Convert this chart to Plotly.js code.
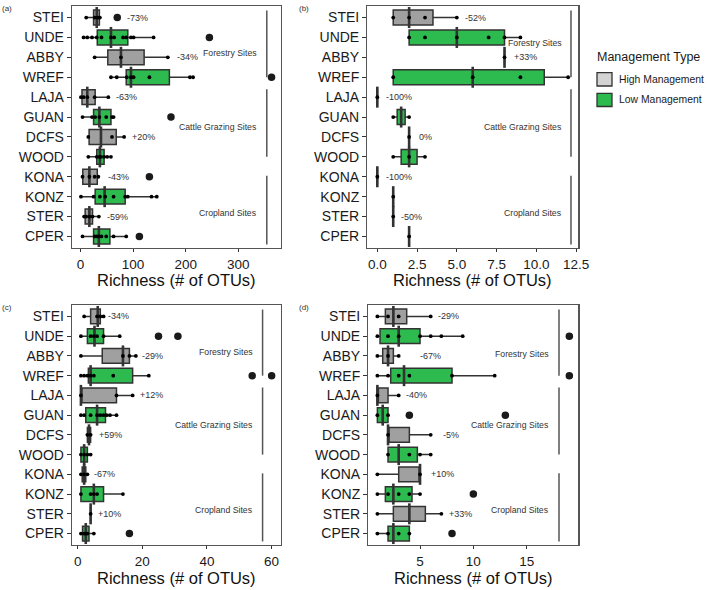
<!DOCTYPE html>
<html><head><meta charset="utf-8">
<script src="https://cdn.plot.ly/plotly-3.0.1.min.js"></script>
<style>html,body{margin:0;padding:0;background:#fff}#chart{width:709px;height:590px}</style>
</head><body><div id="chart"></div><script>
// ---------- DATA ----------
const sites = ['STEI','UNDE','ABBY','WREF','LAJA','GUAN','DCFS','WOOD','KONA','KONZ','STER','CPER'];
const highSites = ['STEI','ABBY','LAJA','DCFS','KONA','STER'];   // High Management
const groupNames = ['Forestry Sites','Cattle Grazing Sites','Cropland Sites'];
const xTitle = 'Richness (# of OTUs)';

// Panel (a)
const aLower  = [11, 6, 27, 58, 1, 4, 15, 15, 4, 1, 7, 4];
const aQ1     = [25, 32, 52, 87, 3, 25, 16.5, 31, 4.5, 28, 9, 25];
const aMedian = [31, 58, 77, 96, 13, 36, 39, 37, 17, 46, 17, 35];
const aQ3     = [36, 90, 121, 169, 28, 58, 68, 45, 32, 85, 23, 56];
const aUpper  = [37, 139, 166, 214, 53, 63, 83, 58, 34, 145, 35, 87];
const aPoints = [[11,27,31,35,37],[6,13,22,31,40,58,64,81,87,96,101,139],[27,77,166],[58,69,88,96,101,131,208,214],
  [1,6,13,27,53],[4,22,28,36,49,60,63],[15,60,83],[15,31,36,39,45,51,58],[4,17,27,34],
  [1,25,37,47,63,85,90,135,145],[7,11,17,23,35],[4,27,31,35,40,49,63,87]];
const aOutSite = ['STEI','UNDE','WREF','GUAN','KONA','CPER'];
const aOutVal  = [70, 245, 363, 172, 131, 112];
const aPct     = ['-73%','-34%','-63%','+20%','-43%','-59%'];

// Panel (b)
const bLower  = [1, 2, 8, 1, 0, 1, 2, 1, 0, 1, 1, 2];
const bQ1     = [1, 2, 8, 1, 0, 1.25, 2, 1.5, 0, 1, 1, 2];
const bMedian = [2, 5, 8, 6, 0, 1.5, 2, 2, 0, 1, 1, 2];
const bQ3     = [3.5, 8, 8, 10.5, 0, 1.75, 2, 2.5, 0, 1, 1, 2];
const bUpper  = [5, 9, 8, 12, 0, 2, 2, 3, 0, 1, 1, 2];
const bPoints = [[1,2,3,5],[2,3,5,7,8,9],[8],[1,6,9,12],[0],[1,2],[2],[1,2,3],[0],[1],[1],[2]];
const bOutSite = [];
const bOutVal  = [];
const bPct     = ['-52%','+33%','-100%','0%','-100%','-50%'];

// Panel (c)
const cLower  = [2, 1, 1, 1, 1, 1, 3, 1, 1, 1, 4, 1];
const cQ1     = [4, 3, 7.6, 3.3, 1, 2.5, 3, 1, 1.4, 1, 4, 1.5];
const cMedian = [6.2, 5.2, 14, 4, 1, 6, 3.5, 2, 2, 5, 4, 2.5];
const cQ3     = [7, 8, 16, 17, 12, 8.6, 4, 3, 2.5, 8, 4, 3.5];
const cUpper  = [8, 13, 18, 22, 17, 12, 4, 4, 3, 14, 4, 5];
const cPoints = [[2,6,7,8],[1,4,5,6,8,13],[1,14,16,18],[1,2,3,4,5,11,22],[1,12,17],[1,2,4,6,7,8,9,10,12],
  [3,4],[1,2,3,4],[1,2,3],[1,4,5,6,14],[4],[1,2,2.5,3,5]];
const cOutSite = ['UNDE','UNDE','WREF','WREF','CPER'];
const cOutVal  = [25, 31, 54, 60, 16];
const cPct     = ['-34%','-29%','+12%','+59%','-67%','+10%'];

// Panel (d)
const dLower  = [1, 1, 1, 1, 1, 1, 2, 2, 1, 1, 1, 1];
const dQ1     = [1.75, 1.25, 1.5, 2.25, 1, 1, 2, 2, 3, 1.75, 2.5, 2];
const dMedian = [2.5, 3, 2, 3.5, 1, 1.5, 2, 3, 5, 2.5, 4, 2.5];
const dQ3     = [3.75, 5, 2.5, 8, 2, 2, 4, 4.75, 5, 4.25, 5.5, 4];
const dUpper  = [6, 9, 3, 12, 3, 2, 6, 6, 5, 5, 7, 4];
const dPoints = [[1,2,3,6],[1,2,3,5,6,7,9],[1,2,3],[1,2,3,4,8,12],[1,3],[1,2],[2,6],[2,4,5,6],[1,5],
  [1,2,3,4,5],[1,7],[1,2,3,4]];
const dOutSite = ['UNDE','WREF','GUAN','GUAN','KONZ','CPER'];
const dOutVal  = [19, 19, 4, 13, 10, 8];
const dPct     = ['-29%','-67%','-40%','-5%','+10%','+33%'];

const aTicks = [0, 100, 200, 300];
const bTicks = [0, 2.5, 5, 7.5, 10, 12.5];
const cTicks = [0, 20, 40, 60];
const dTicks = [5, 10, 15];

// ---------- STYLE / LAYOUT CONFIG ----------
const W = 709, H = 590;
const FONT = 'Liberation Sans, Arial, Helvetica, sans-serif';
const GRAY = '#a0a0a0', GREEN = '#2dba4e', EDGE = '#333333';
const panels = [
  {tag:'(a)', s:'',  lower:aLower, q1:aQ1, med:aMedian, q3:aQ3, upper:aUpper, pts:aPoints, outS:aOutSite, outV:aOutVal, pct:aPct,
   ticks:aTicks, fmt:v=>String(v), range:[-16,381], px:[72,281], py:[6,248], titleY:280,
   pctX:[85,180,64,94,48.7,47.5], lineX:354, labX:340, labY:[1.8,5.5,9.8]},
  {tag:'(b)', s:'2', lower:bLower, q1:bQ1, med:bMedian, q3:bQ3, upper:bUpper, pts:bPoints, outS:bOutSite, outV:bOutVal, pct:bPct,
   ticks:bTicks, fmt:v=>v.toFixed(1), range:[-0.63,12.64], px:[367.3,578.3], py:[6,248], titleY:280,
   pctX:[5.41,8.5,0.42,2.5,0.42,1.38], lineX:12.18, labX:11.72, labY:[1.3,5.5,9.8]},
  {tag:'(c)', s:'3', lower:cLower, q1:cQ1, med:cMedian, q3:cQ3, upper:cUpper, pts:cPoints, outS:cOutSite, outV:cOutVal, pct:cPct,
   ticks:cTicks, fmt:v=>String(v), range:[-1.76,62.9], px:[72,281], py:[305,545], titleY:577.8,
   pctX:[8.76,19.3,18.8,5.9,4.5,5.7], lineX:57.2, labX:55, labY:[1.8,5.5,9.8]},
  {tag:'(d)', s:'4', lower:dLower, q1:dQ1, med:dMedian, q3:dQ3, upper:dUpper, pts:dPoints, outS:dOutSite, outV:dOutVal, pct:dPct,
   ticks:dTicks, fmt:v=>String(v), range:[0.15,19.84], px:[368.3,578.3], py:[305,545], titleY:577.8,
   pctX:[6.5,4.78,3.5,7.0,5.8,7.56], lineX:18.03, labX:17.3, labY:[1.9,5.5,9.8]}
];
const groupSpans = [[-0.35,3.0],[3.6,7.0],[7.95,11.4]];

const traces = [], shapes = [], annotations = [];
const layout = {
  width:W, height:H, margin:{l:0,r:0,t:0,b:0}, paper_bgcolor:'#fff', plot_bgcolor:'#fff',
  font:{family:FONT, color:'#1a1a1a'}, boxmode:'overlay', showlegend:false,
  shapes, annotations
};

panels.forEach(p => {
  const xa = 'x'+p.s, ya = 'y'+p.s;
  ['high','low'].forEach(g => {
    const idx = sites.map((s,i)=>i).filter(i => (highSites.includes(sites[i])) === (g==='high'));
    traces.push({
      type:'box', orientation:'h', xaxis:xa, yaxis:ya,
      y: idx.map(i=>sites[i]),
      q1: idx.map(i=>p.q1[i]), median: idx.map(i=>p.med[i]), q3: idx.map(i=>p.q3[i]),
      lowerfence: idx.map(i=>p.lower[i]), upperfence: idx.map(i=>p.upper[i]),
      boxpoints:false, width:0.75, whiskerwidth:0,
      fillcolor: g==='high' ? GRAY : GREEN,
      line:{color:EDGE, width:1.5}, hoverinfo:'skip', showlegend:false
    });
  });
  // thick median bars (ggplot style)
  traces.push({type:'scatter', mode:'markers', xaxis:xa, yaxis:ya, x:p.med, y:sites,
    marker:{symbol:'line-ns', size:15, color:EDGE, line:{color:EDGE, width:2.6}},
    hoverinfo:'skip', cliponaxis:false});
  const px = [], py = [];
  p.pts.forEach((arr,i) => arr.forEach(v => { px.push(v); py.push(sites[i]); }));
  traces.push({type:'scatter', mode:'markers', xaxis:xa, yaxis:ya, x:px, y:py,
    marker:{size:3.8, color:'#000'}, hoverinfo:'skip', cliponaxis:false});
  if (p.outV.length) traces.push({type:'scatter', mode:'markers', xaxis:xa, yaxis:ya, x:p.outV, y:p.outS,
    marker:{size:7.5, color:'#1a1a1a'}, hoverinfo:'skip', cliponaxis:false});

  layout['xaxis'+p.s] = {
    domain:[p.px[0]/W, p.px[1]/W], anchor:ya, range:p.range,
    tickvals:p.ticks, ticktext:p.ticks.map(p.fmt),
    ticks:'outside', ticklen:3, tickwidth:1, tickcolor:EDGE,
    showline:true, mirror:true, linecolor:'#555', linewidth:1.3,
    showgrid:false, zeroline:false, automargin:false, fixedrange:true,
    tickfont:{size:13.5, color:'#1a1a1a', family:FONT}
  };
  layout['yaxis'+p.s] = {
    domain:[1-p.py[1]/H, 1-p.py[0]/H], anchor:xa, type:'category',
    categoryorder:'array', categoryarray:sites, range:[11.58,-0.58],
    ticks:'outside', ticklen:4, tickwidth:1, tickcolor:EDGE,
    showline:true, mirror:true, linecolor:'#555', linewidth:1.3,
    showgrid:false, zeroline:false, automargin:false, fixedrange:true,
    tickfont:{size:14, color:'#1a1a1a', family:FONT}
  };
  // x-axis title, placed exactly under the panel
  annotations.push({xref:'paper', yref:'paper', x:(p.px[0]+p.px[1])/2/W, y:1-p.titleY/H, text:xTitle,
    showarrow:false, xanchor:'center', yanchor:'middle', font:{size:16.5, color:'#111', family:FONT}});
  // group bars and labels
  groupSpans.forEach((sp,k) => {
    shapes.push({type:'line', xref:xa, yref:ya, x0:p.lineX, x1:p.lineX, y0:sp[0], y1:sp[1],
      line:{color:'#555', width:1.5}});
    annotations.push({xref:xa, yref:ya, x:p.labX, y:p.labY[k], text:groupNames[k], showarrow:false,
      xanchor:'right', yanchor:'middle', font:{size:8.7, color:'#333', family:FONT}});
  });
  // percent change labels on high-management rows
  highSites.forEach((s,k) => {
    annotations.push({xref:xa, yref:ya, x:p.pctX[k], y:s, text:p.pct[k], showarrow:false,
      xanchor:'left', yanchor:'middle', font:{size:9, color:'#333', family:FONT}});
  });
  // panel tag
  annotations.push({xref:'paper', yref:'paper', x:(p.s===''||p.s==='3')?0:297/W, y:1-(p.py[0]-4)/H,
    text:p.tag, showarrow:false, xanchor:'left', yanchor:'top', font:{size:8, color:'#333', family:FONT}});
});

// legend (drawn in paper coordinates)
annotations.push({xref:'paper', yref:'paper', x:595/W, y:1-57/H, text:'Management Type', showarrow:false,
  xanchor:'left', yanchor:'middle', font:{size:12.5, color:'#1a1a1a', family:FONT}});
[['High Management','#d3d3d3',72.7,86],['Low Management',GREEN,93.3,106.5]].forEach(([t,c,y0,y1]) => {
  shapes.push({type:'rect', xref:'paper', yref:'paper', x0:597/W, x1:612/W, y0:1-y1/H, y1:1-y0/H,
    fillcolor:c, line:{color:EDGE, width:1.3}});
  annotations.push({xref:'paper', yref:'paper', x:617/W, y:1-((y0+y1)/2)/H, text:t, showarrow:false,
    xanchor:'left', yanchor:'middle', font:{size:10.4, color:'#1a1a1a', family:FONT}});
});

Plotly.newPlot('chart', traces, layout, {staticPlot:true, displayModeBar:false});
</script></body></html>
